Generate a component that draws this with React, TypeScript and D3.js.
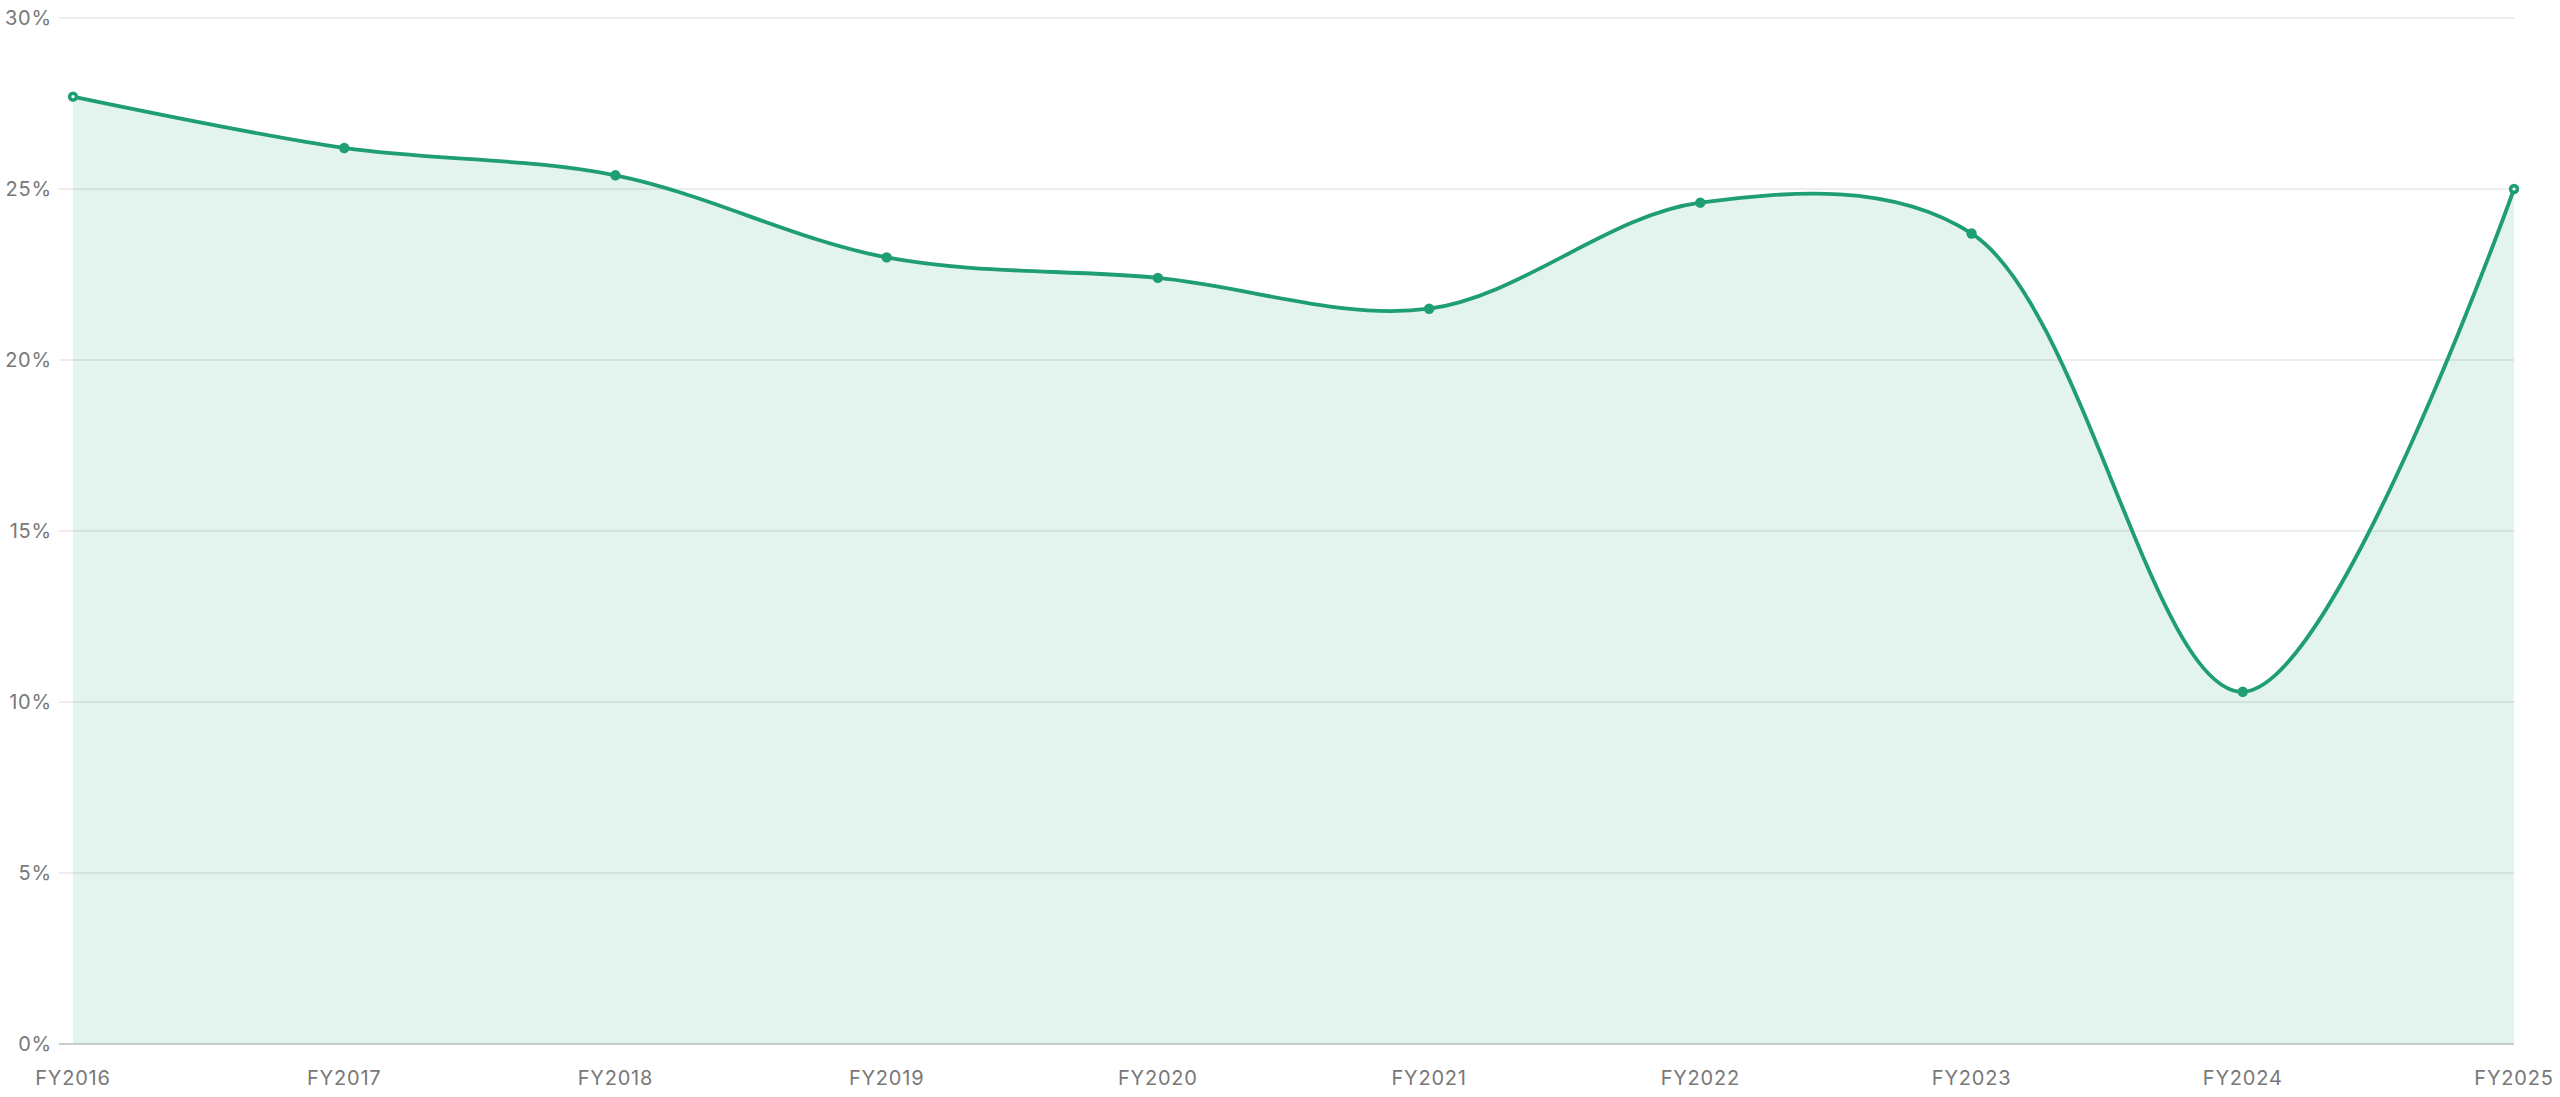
import React from "react";
import * as d3 from "d3";

const categories = ["FY2016","FY2017","FY2018","FY2019","FY2020","FY2021","FY2022","FY2023","FY2024","FY2025"];
const values = [27.7, 26.2, 25.4, 23.0, 22.4, 21.5, 24.6, 23.7, 10.3, 25.0];
const yTicks = [0, 5, 10, 15, 20, 25, 30];

const W = 2560, H = 1097;
const left = 73, right = 2514, top = 18, bottom = 1044;
const LINE = "#1e9e72";
const FILL = "#e3f3ed";
const FONT = "Inter, 'Liberation Sans', sans-serif";

export default function App() {
  const x = d3.scalePoint<string>().domain(categories).range([left, right]);
  const y = d3.scaleLinear().domain([0, 30]).range([bottom, top]);
  const curve = d3.curveCatmullRom.alpha(0.5);
  const line = d3.line<number>().x((_, i) => x(categories[i])!).y(d => y(d)).curve(curve);
  const area = d3.area<number>().x((_, i) => x(categories[i])!).y0(y(0)).y1(d => y(d)).curve(curve);
  return (
    <svg width={W} height={H} style={{ position: "absolute", left: 0, top: 0, display: "block" }}>
      <rect width={W} height={H} fill="#fff" />
      <path d={area(values)!} fill={FILL} />
      {yTicks.map(t => (
        <g key={t}>
          <line x1={59} x2={right} y1={y(t)} y2={y(t)} stroke={t === 0 ? "#c4cfcb" : "rgba(0,0,0,0.09)"} strokeWidth={t === 0 ? 1.8 : 1.5} />
          <text x={52} y={y(t)} dy="0.36em" textAnchor="end" fontFamily={FONT} fontSize={20} fill="#787878" letterSpacing={0.8}>{t}%</text>
        </g>
      ))}
      {categories.map(c => (
        <text key={c} x={x(c)} y={1085} textAnchor="middle" fontFamily={FONT} fontSize={20} fill="#787878" letterSpacing={0.8}>{c}</text>
      ))}
      <path d={line(values)!} fill="none" stroke={LINE} strokeWidth={3.8} />
      {values.map((v, i) => (
        <g key={i}>
          <circle cx={x(categories[i])} cy={y(v)} r={5.2} fill={LINE} />
          {(i === 0 || i === values.length - 1) && <circle cx={x(categories[i])} cy={y(v)} r={1.6} fill="#fff" />}
        </g>
      ))}
    </svg>
  );
}
